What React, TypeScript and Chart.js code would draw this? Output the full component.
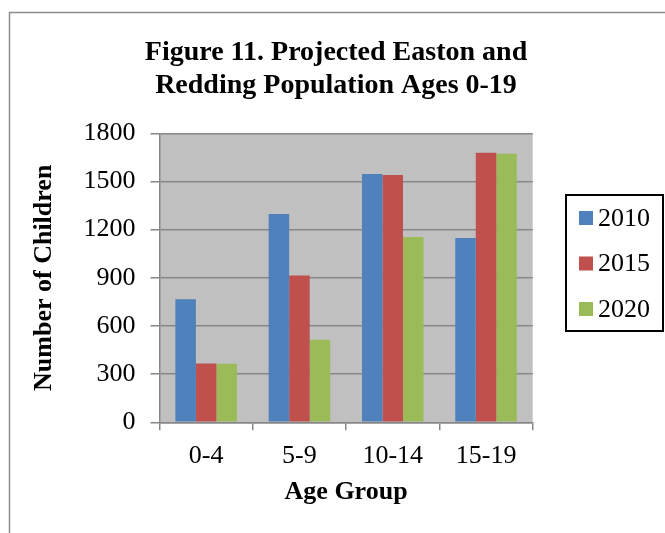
import { useEffect, useRef } from "react";
import { Chart, registerables } from "chart.js";

Chart.register(...registerables);

const TITLE_LINES = ["Figure 11. Projected Easton and", "Redding Population Ages 0-19"];
const AGE_GROUPS = ["0-4", "5-9", "10-14", "15-19"];
const YEARS = ["2010", "2015", "2020"];
const VALUES_2010 = [766, 1297, 1546, 1148];
const VALUES_2015 = [367, 915, 1540, 1679];
const VALUES_2020 = [365, 514, 1154, 1673];
const Y_TICKS = [0, 300, 600, 900, 1200, 1500, 1800];
const X_TITLE = "Age Group";
const Y_TITLE = "Number of Children";

const SERIES = [VALUES_2010, VALUES_2015, VALUES_2020];
const COLORS = ["#4F81BD", "#C0504D", "#9BBB59"];
const SERIF = '"Liberation Serif", "Times New Roman", serif';
const GRID = "#878787";

// Outer frame, white page and grey plot background
const backdrop = {
  id: "backdrop",
  beforeDraw(chart: any) {
    const { ctx, chartArea, width, height } = chart;
    ctx.save();
    ctx.fillStyle = "#ffffff";
    ctx.fillRect(0, 0, width, height);
    ctx.strokeStyle = "#8c8c8c";
    ctx.lineWidth = 1.5;
    ctx.beginPath();
    ctx.moveTo(9.5, height);
    ctx.lineTo(9.5, 12.5);
    ctx.lineTo(width, 12.5);
    ctx.stroke();
    ctx.fillStyle = "#C0C0C0";
    ctx.fillRect(chartArea.left, chartArea.top, chartArea.right - chartArea.left, chartArea.bottom - chartArea.top);
    ctx.restore();
  },
};

// Two-line heading and boxed legend
const decorations = {
  id: "decorations",
  afterDraw(chart: any) {
    const { ctx } = chart;
    ctx.save();
    ctx.fillStyle = "#000";
    ctx.textAlign = "center";
    ctx.textBaseline = "alphabetic";
    ctx.font = `bold 28px ${SERIF}`;
    TITLE_LINES.forEach((line, i) => ctx.fillText(line, 336, 60 + i * 33));

    ctx.strokeStyle = "#000";
    ctx.lineWidth = 2;
    ctx.strokeRect(566, 195, 97, 136);
    ctx.font = `26px ${SERIF}`;
    ctx.textAlign = "left";
    ctx.textBaseline = "middle";
    chart.data.datasets.forEach((ds: any, i: number) => {
      const cy = 218 + i * 45.5;
      ctx.fillStyle = ds.backgroundColor;
      ctx.fillRect(579, cy - 7, 14, 14);
      ctx.fillStyle = "#000";
      ctx.fillText(ds.label, 598, cy + 1);
    });
    ctx.restore();
  },
};

export default function App() {
  const canvasRef = useRef<HTMLCanvasElement | null>(null);

  useEffect(() => {
    const canvas = canvasRef.current;
    if (!canvas) return;
    const chart = new Chart(canvas, {
      type: "bar",
      data: {
        labels: AGE_GROUPS,
        datasets: YEARS.map((year, i) => ({
          label: year,
          data: SERIES[i],
          backgroundColor: COLORS[i],
          borderWidth: 0,
          categoryPercentage: 0.66,
          barPercentage: 1,
        })),
      },
      options: {
        responsive: false,
        animation: false,
        devicePixelRatio: 1,
        layout: { padding: { left: 28.5, right: 132.3, top: 133.3, bottom: 24.7 } },
        plugins: {
          legend: { display: false },
          title: { display: false },
          tooltip: { enabled: false },
        },
        scales: {
          x: {
            grid: {
              offset: true,
              drawOnChartArea: false,
              drawTicks: true,
              tickLength: 8,
              color: GRID,
              lineWidth: 1.5,
            },
            border: { display: true, color: GRID, width: 1.5 },
            ticks: { color: "#000", font: { family: SERIF, size: 26 }, padding: 10 },
            title: {
              display: true,
              text: X_TITLE,
              color: "#000",
              font: { family: SERIF, size: 26, weight: "bold" },
              padding: { top: 0, bottom: 0 },
            },
            afterFit: (s: any) => {
              s.height = 86;
            },
          },
          y: {
            min: 0,
            max: 1800,
            afterBuildTicks: (s: any) => {
              s.ticks = Y_TICKS.map((v) => ({ value: v }));
            },
            grid: { color: GRID, lineWidth: 1.5, tickLength: 9, drawTicks: true },
            border: { display: true, color: GRID, width: 1.5 },
            ticks: {
              color: "#000",
              font: { family: SERIF, size: 26 },
              padding: 15,
              callback: (v: any) => String(v),
            },
            title: {
              display: true,
              text: Y_TITLE,
              color: "#000",
              font: { family: SERIF, size: 26, weight: "bold" },
              padding: { top: 0, bottom: 0 },
            },
            afterFit: (s: any) => {
              s.width = 131;
            },
          },
        },
      },
      plugins: [backdrop, decorations],
    });
    return () => chart.destroy();
  }, []);

  return (
    <div style={{ position: "fixed", left: 0, top: 0, width: 665, height: 533, background: "#fff" }}>
      <canvas ref={canvasRef} width={665} height={533} />
    </div>
  );
}
